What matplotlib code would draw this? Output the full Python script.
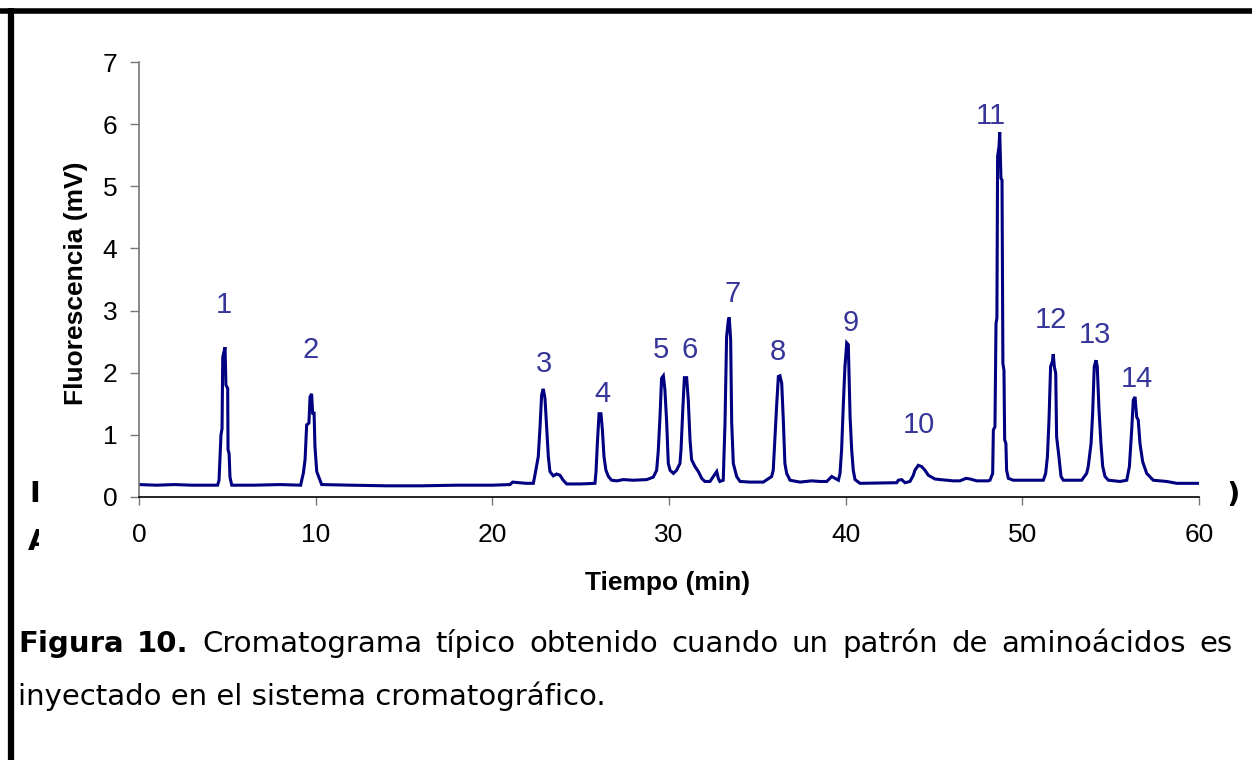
import matplotlib
matplotlib.use("Agg")
import matplotlib.pyplot as plt
from matplotlib import font_manager as fm
from matplotlib.patches import Rectangle
from matplotlib.lines import Line2D

# chromatogram trace, read point by point (min, mV)
tiempo = [0.0, 1.0, 2.0, 3.0, 4.45, 4.53, 4.64, 4.70, 4.74, 4.87, 4.92, 5.02, 5.04, 5.10, 5.15, 5.25,
          6.5, 8.0, 9.15, 9.21, 9.30, 9.40, 9.49, 9.62, 9.68, 9.77, 9.83, 9.91, 9.96, 10.06, 10.25, 10.34,
          12.0, 14.0, 16.0, 18.0, 20.0, 21.0, 21.15, 21.9,
          22.32, 22.41, 22.60, 22.70, 22.79, 22.88, 22.98, 23.07, 23.17, 23.26, 23.45, 23.64, 23.83, 24.01, 24.21,
          25.0, 25.81, 25.87, 25.94, 26.04, 26.15, 26.23, 26.32, 26.43, 26.57, 26.75, 27.04, 27.41, 27.98, 28.74,
          29.11, 29.30, 29.39, 29.49, 29.58, 29.68, 29.77, 29.87, 29.96, 30.06, 30.25, 30.43, 30.62, 30.68,
          30.78, 30.87, 31.00, 31.09, 31.19, 31.28, 31.47, 31.66, 31.85, 32.03, 32.32, 32.51, 32.70, 32.79,
          32.88, 33.07, 33.17, 33.26, 33.36, 33.41, 33.49, 33.55, 33.64, 33.83, 34.02, 34.58, 35.34,
          35.81, 35.90, 36.00, 36.10, 36.19, 36.28, 36.38, 36.47, 36.56, 36.66, 36.85, 37.41, 38.08, 38.55,
          38.93, 39.21, 39.40, 39.59, 39.68, 39.77, 39.87, 39.96, 40.06, 40.15, 40.25, 40.34, 40.43, 40.53,
          40.81, 42.89, 42.98, 43.17, 43.36, 43.64, 43.83, 43.92, 44.11, 44.30, 44.49, 44.68, 44.87, 45.05,
          45.34, 45.71, 46.09, 46.47, 46.81, 47.04, 47.42, 48.07,
          48.17, 48.32, 48.36, 48.45, 48.51, 48.56, 48.60, 48.68, 48.72, 48.76, 48.79, 48.85, 48.90, 48.96,
          49.00, 49.07, 49.11, 49.21, 49.49, 50.06, 50.43, 51.19,
          51.32, 51.42, 51.51, 51.60, 51.70, 51.75, 51.81, 51.89, 51.94, 52.07, 52.19, 52.32, 52.89, 53.36,
          53.64, 53.73, 53.89, 53.98, 54.07, 54.17, 54.24, 54.34, 54.45, 54.55, 54.68, 54.87, 55.53,
          55.91, 56.06, 56.19, 56.28, 56.38, 56.47, 56.56, 56.66, 56.81, 57.04, 57.41, 58.17, 58.74, 60.0]
fluorescencia = [0.20, 0.19, 0.20, 0.19, 0.19, 0.27, 1.00, 1.10, 2.25, 2.41, 1.80, 1.75, 0.76, 0.70, 0.32, 0.19,
                 0.19, 0.20, 0.19, 0.27, 0.38, 0.60, 1.16, 1.19, 1.61, 1.66, 1.35, 1.35, 0.81, 0.41, 0.27, 0.20,
                 0.19, 0.18, 0.18, 0.19, 0.19, 0.20, 0.24, 0.22,
                 0.22, 0.35, 0.65, 1.13, 1.64, 1.74, 1.59, 1.13, 0.65, 0.41, 0.34, 0.37, 0.35, 0.27, 0.21,
                 0.21, 0.22, 0.41, 0.84, 1.34, 1.34, 1.08, 0.65, 0.43, 0.33, 0.27, 0.26, 0.28, 0.27, 0.28,
                 0.32, 0.43, 0.73, 1.29, 1.91, 1.95, 1.72, 1.19, 0.54, 0.43, 0.38, 0.43, 0.54, 0.76,
                 1.40, 1.92, 1.92, 1.56, 0.92, 0.60, 0.49, 0.41, 0.30, 0.25, 0.25, 0.33, 0.41, 0.30,
                 0.25, 0.27, 1.19, 2.58, 2.85, 2.89, 2.53, 1.19, 0.54, 0.33, 0.25, 0.24, 0.24,
                 0.33, 0.43, 0.97, 1.51, 1.94, 1.95, 1.83, 1.24, 0.54, 0.38, 0.27, 0.24, 0.26, 0.25,
                 0.25, 0.33, 0.30, 0.27, 0.38, 0.76, 1.51, 2.10, 2.48, 2.45, 1.29, 0.76, 0.43, 0.28,
                 0.22, 0.23, 0.27, 0.28, 0.23, 0.25, 0.35, 0.43, 0.51, 0.49, 0.43, 0.35, 0.32, 0.29,
                 0.28, 0.27, 0.26, 0.26, 0.30, 0.29, 0.26, 0.26,
                 0.27, 0.38, 1.08, 1.13, 2.79, 2.88, 5.48, 5.64, 5.87, 5.42, 5.13, 5.10, 2.15, 2.04,
                 0.92, 0.86, 0.43, 0.30, 0.27, 0.27, 0.27, 0.27,
                 0.38, 0.65, 1.24, 2.10, 2.18, 2.30, 2.10, 1.99, 0.97, 0.65, 0.33, 0.27, 0.27, 0.27,
                 0.38, 0.49, 0.86, 1.35, 2.10, 2.20, 2.10, 1.40, 0.86, 0.49, 0.33, 0.27, 0.25,
                 0.27, 0.49, 1.08, 1.56, 1.61, 1.29, 1.24, 0.86, 0.57, 0.38, 0.27, 0.25, 0.22, 0.22]

# peak numbers and where their labels sit
picos = ["1", "2", "3", "4", "5", "6", "7", "8", "9", "10", "11", "12", "13", "14"]
pico_t = [4.81, 9.74, 22.92, 26.26, 29.55, 31.19, 33.62, 36.17, 40.30, 44.15, 48.23, 51.62, 54.11, 56.49]
pico_y = [2.96, 2.24, 2.01, 1.53, 2.24, 2.24, 3.14, 2.20, 2.67, 1.03, 6.00, 2.72, 2.48, 1.77]

x_ticks = [0, 10, 20, 30, 40, 50, 60]
y_ticks = [0, 1, 2, 3, 4, 5, 6, 7]


def liberation(bold=False):
    # pick the regular-width Liberation Sans file (not the Narrow one)
    for f in fm.fontManager.ttflist:
        if f.name == "Liberation Sans" and "Narrow" not in f.fname:
            if (f.weight == 700) == bold and f.style == "normal":
                return f.fname
    return None


def props(fname, size):
    if fname:
        return fm.FontProperties(fname=fname, size=size)
    return fm.FontProperties(family="Liberation Sans", size=size)


f_reg = liberation()
f_bold = liberation(bold=True)

W, H = 1252, 760
fig = plt.figure(figsize=(W / 100, H / 100), dpi=100)


def fx(px):
    return px / W


def fy(py):
    return 1 - py / H


# bits of the page text that peek out around the chart object
fig.text(fx(29), fy(502), "I", fontsize=21, fontweight="bold", family="DejaVu Sans", zorder=1)
fig.text(fx(28), fy(550), "A", fontsize=21, fontweight="bold", family="DejaVu Sans", zorder=1)
fig.text(fx(1240), fy(503), ")", fontsize=21, fontweight="bold", family="DejaVu Sans",
         ha="right", zorder=1)
fig.patches.append(Rectangle((fx(39), fy(605)), fx(1230) - fx(39), fy(30) - fy(605),
                             transform=fig.transFigure, facecolor="white", edgecolor="none", zorder=2))

# page border
fig.lines.append(Line2D([0, 1], [fy(10.5), fy(10.5)], transform=fig.transFigure,
                        color="black", lw=4, solid_capstyle="butt", zorder=5))
fig.lines.append(Line2D([fx(11), fx(11)], [0, fy(8)], transform=fig.transFigure,
                        color="black", lw=4.5, solid_capstyle="butt", zorder=5))

ax = fig.add_axes([fx(139), fy(497), fx(1199) - fx(139), fy(62) - fy(497)])
ax.set_zorder(3)
ax.patch.set_visible(False)

ax.plot(tiempo, fluorescencia, color="#000080", lw=2.2, solid_joinstyle="miter")

for lab, t, y in zip(picos, pico_t, pico_y):
    ax.text(t, y, lab, ha="center", va="baseline", color="#35359a",
            fontproperties=props(f_reg, 21))

ax.set_xlim(0, 60)
ax.set_ylim(0, 7)
ax.set_xticks(x_ticks)
ax.set_yticks(y_ticks)
ax.set_xticklabels([str(v) for v in x_ticks], fontproperties=props(f_reg, 19))
ax.set_yticklabels([str(v) for v in y_ticks], fontproperties=props(f_reg, 19))
for sp in ["top", "right"]:
    ax.spines[sp].set_visible(False)
ax.spines["bottom"].set_color("black")
ax.spines["left"].set_color("#777777")
ax.spines["bottom"].set_linewidth(1.2)
ax.spines["left"].set_linewidth(1.2)
ax.tick_params(axis="x", direction="out", length=6, width=1, color="#777777", pad=13)
ax.tick_params(axis="y", direction="out", length=6.5, width=1, color="#777777", pad=9)

fig.text(fx(668), fy(583), "Tiempo (min)", ha="center", va="center",
         fontproperties=props(f_bold, 19), zorder=4)
fig.text(fx(76), fy(283), "Fluorescencia (mV)", ha="center", va="center", rotation=90,
         fontproperties=props(f_bold, 19), zorder=4)

# caption, first line justified between the margins
renderer = fig.canvas.get_renderer()
linea1 = [("Figura", "bold"), ("10.", "bold"), ("Cromatograma", "normal"), ("típico", "normal"),
          ("obtenido", "normal"), ("cuando", "normal"), ("un", "normal"), ("patrón", "normal"),
          ("de", "normal"), ("aminoácidos", "normal"), ("es", "normal")]
textos = [fig.text(0, fy(652), w, fontsize=21, fontweight=wt, family="DejaVu Sans",
                   va="baseline", zorder=4) for w, wt in linea1]
anchos = [t.get_window_extent(renderer).width for t in textos]
x0, x1 = 18, 1232
hueco = (x1 - x0 - sum(anchos)) / (len(textos) - 1)
x = x0
for t, a in zip(textos, anchos):
    t.set_x(fx(x))
    x += a + hueco
fig.text(fx(18), fy(705), "inyectado en el sistema cromatográfico.", fontsize=21,
         family="DejaVu Sans", va="baseline", zorder=4)

fig.savefig("out.png", dpi=100)
